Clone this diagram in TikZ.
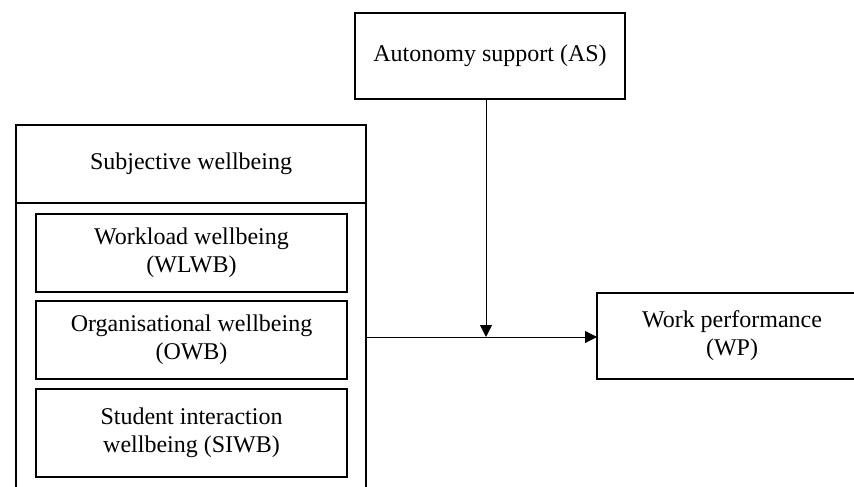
\documentclass[tikz,border=0pt]{standalone}
\usepackage{fontspec}
\setmainfont{Liberation Serif}
\usetikzlibrary{arrows.meta, positioning}

\tikzset{
  box/.style={draw, line width=1.2pt, align=center, inner sep=0pt, outer sep=0pt,
              font=\fontsize{12}{14}\selectfont},
  mainbox/.style={box, minimum width=135pt, minimum height=43pt},
  subbox/.style={box, minimum width=155.5pt, minimum height=39pt},
  link/.style={line width=0.5pt, -{Triangle[length=6pt, width=6pt]}}
}

\begin{document}
\begin{tikzpicture}[x=0.5pt, y=-0.5pt]
  \useasboundingbox (0,0) rectangle (854,486);
  \clip (0,0) rectangle (854,486);

  % moderator and outcome
  \node[mainbox] (as) at (490,56) {Autonomy support (AS)};
  \node[mainbox] (wp) at (732,336) {Work performance\\(WP)};

  % predictor block
  \node[box, minimum width=175pt, minimum height=200pt, anchor=north] (sw) at (191,125) {};
  \node[font=\fontsize{12}{14}\selectfont] (swhead) at (191,164) {Subjective wellbeing};
  \coordinate (hdr) at (0,203);
  \draw[line width=1.2pt] (sw.west |- hdr) -- (sw.east |- hdr);

  \node[subbox] (wlwb) at (191.5,253) {Workload wellbeing\\(WLWB)};
  \node[subbox, below=4.5pt of wlwb] (owb) {Organisational wellbeing\\(OWB)};
  \node[subbox, minimum height=44pt, below=5pt of owb] (siwb) {Student interaction\\wellbeing (SIWB)};

  % paths
  \coordinate (join) at (486,337);
  \draw[link] (sw.east |- join) -- (wp.west |- join);
  \draw[link] (as.south -| join) -- (join);

\end{tikzpicture}
\end{document}
